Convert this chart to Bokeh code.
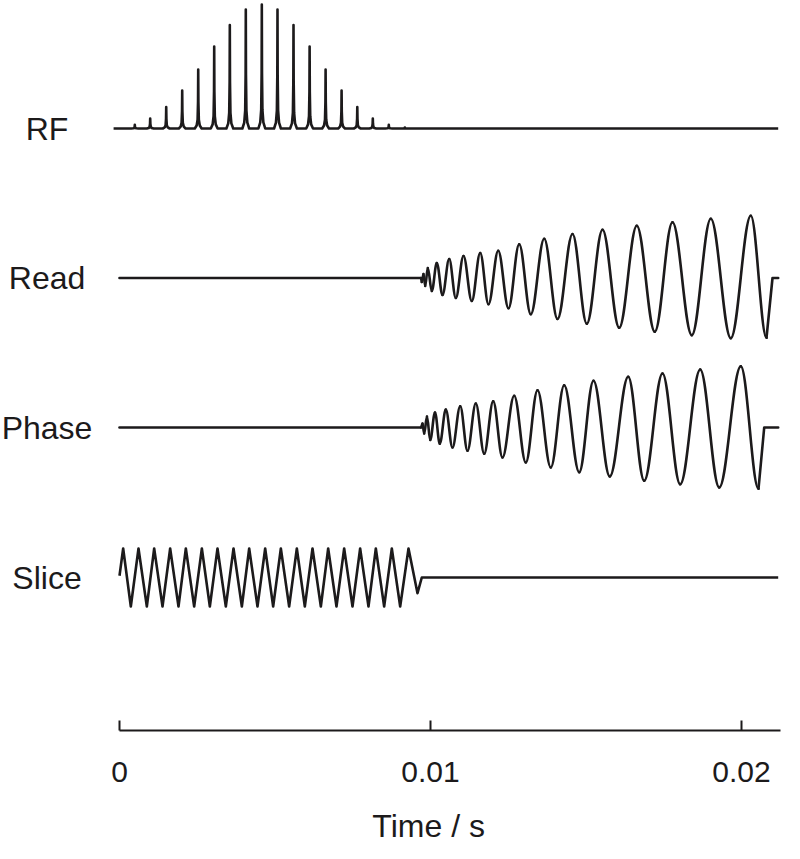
from bokeh.plotting import figure
from bokeh.layouts import column
from bokeh.models import Range1d, FixedTicker
from bokeh.core.properties import value
from bokeh.embed import file_html
from bokeh.resources import INLINE

# ---------------- data ----------------
TICKS = [0.0, 0.01, 0.02]
TICK_LABELS = ["0", "0.01", "0.02"]
AXIS_END = 0.02124
T_END = 0.02118          # end of every trace
RF_START = -0.00019      # RF baseline starts slightly before t = 0
X_LABEL = "Time / s"

# RF: sub-pulse centres (s) and relative amplitudes
RF_T = [0.000492, 0.000987, 0.001502, 0.002016, 0.002531, 0.003045,
        0.003547, 0.004061, 0.004576, 0.005080, 0.005595, 0.006113,
        0.006627, 0.007141, 0.007646, 0.008145, 0.008659, 0.009174]
RF_A = [0.029, 0.080, 0.173, 0.307, 0.475, 0.661,
        0.835, 0.960, 1.000, 0.960, 0.835, 0.661,
        0.475, 0.307, 0.173, 0.080, 0.029, 0.008]

# Read gradient: vertices (s, mT/m); extrema of the spiral read-out
READ_T = [0.0, 0.009695, 0.009720, 0.009775, 0.009830, 0.009913, 0.010042,
          0.010203, 0.010386, 0.010601, 0.010814, 0.011061, 0.011328,
          0.011598, 0.011865, 0.012177, 0.012508, 0.012852, 0.013225,
          0.013656, 0.014084, 0.014566, 0.015026, 0.015531, 0.016068,
          0.016633, 0.017212, 0.017781, 0.018402, 0.019013, 0.019656,
          0.020299, 0.020804, 0.020997, T_END]
READ_G = [0.0, 0.0, -1.6, 1.6, -3.2, 4.0, -5.2,
          6.0, -6.8, 7.6, -8.0, 8.8, -9.2,
          10.0, -10.5, 10.9, -12.1, 13.5, -14.5,
          15.7, -16.4, 17.6, -18.3, 19.3, -19.9,
          20.9, -21.5, 22.3, -22.9, 23.7, -24.1,
          24.9, -23.9, 0.0, 0.0]

# Phase gradient
PHASE_T = [0.0, 0.009695, 0.009743, 0.009797, 0.009887, 0.009990, 0.010145,
           0.010299, 0.010492, 0.010707, 0.010955, 0.011190, 0.011457,
           0.011727, 0.012016, 0.012315, 0.012691, 0.013064, 0.013441,
           0.013868, 0.014299, 0.014781, 0.015241, 0.015765, 0.016357,
           0.016871, 0.017460, 0.018029, 0.018672, 0.019283, 0.019978,
           0.020547, 0.020730, T_END]
PHASE_G = [0.0, 0.0, 1.6, -2.4, 4.4, -5.0, 6.0,
           -6.5, 7.2, -8.0, 8.5, -9.3, 9.6,
           -10.5, 10.5, -12.0, 12.7, -14.0, 14.9,
           -16.0, 16.9, -17.9, 18.7, -19.6, 20.3,
           -21.3, 21.6, -22.7, 23.2, -24.0, 24.5,
           -24.5, 0.0, 0.0]

# Slice gradient: triangular oscillation vertices
SLICE_T = [0.0, 0.000118, 0.000364, 0.000611, 0.000879, 0.001115, 0.001383,
           0.001629, 0.001897, 0.002133, 0.002401, 0.002648, 0.002905,
           0.003151, 0.003419, 0.003666, 0.003934, 0.004170, 0.004437,
           0.004684, 0.004941, 0.005188, 0.005455, 0.005702, 0.005959,
           0.006206, 0.006474, 0.006710, 0.006977, 0.007224, 0.007492,
           0.007738, 0.008006, 0.008242, 0.008510, 0.008756, 0.009025,
           0.009293, 0.009582, 0.009720, T_END]
SLICE_G = [0.7, 11.6, -11.6, 11.6, -11.6, 11.6, -11.6,
           11.6, -11.6, 11.6, -11.6, 11.6, -11.6,
           11.6, -11.6, 11.6, -11.6, 11.6, -11.6,
           11.6, -11.6, 11.6, -11.6, 11.6, -11.6,
           11.6, -11.6, 11.6, -11.6, 11.6, -11.6,
           11.6, -11.6, 11.6, -11.6, 11.6, -11.6,
           11.6, -6.3, 0.0, 0.0]

CHANNELS = ["RF", "Read", "Phase", "Slice"]

# ---------------- layout / style ----------------
INK = "#1c1a1b"
FONT = "Liberation Sans"
LW = 2.6
# vertical offsets of the channels (plot units = px above the time axis)
BASE = {"RF": 602, "Read": 452.5, "Phase": 303, "Slice": 153}
RF_SCALE = 124.0     # plot units for RF amplitude 1
G_SCALE = 2.5        # plot units per mT/m
LABEL_X = -0.00233   # x position (in time units) of the channel names

W = 784
FRAME_H = 730
MAIN_H = 805
BOT_H = 38

p = figure(width=W, height=MAIN_H, output_backend="svg", toolbar_location=None,
           x_range=Range1d(-0.0038264, 0.0213826), y_range=Range1d(0, FRAME_H),
           y_axis_type=None, min_border_left=0, min_border_right=0,
           min_border_top=0, min_border_bottom=MAIN_H - FRAME_H)
p.outline_line_color = None
p.xgrid.visible = False
p.ygrid.visible = False

# RF trace: baseline with narrow sub-pulses
rf_x, rf_y = [RF_START], [BASE["RF"]]
shape = [(-0.00011, 0.0), (-0.00005, 0.05), (-0.00002, 0.15), (-0.000006, 0.45),
         (0.0, 1.0), (0.000006, 0.45), (0.00002, 0.15), (0.00005, 0.05), (0.00011, 0.0)]
for t, a in zip(RF_T, RF_A):
    for dx, f in shape:
        rf_x.append(t + dx)
        rf_y.append(BASE["RF"] + f * a * RF_SCALE)
rf_x.append(T_END)
rf_y.append(BASE["RF"])
p.line(rf_x, rf_y, line_color=INK, line_width=LW, line_join="round")


def draw_gradient(ts, gs, base):
    ys = [base + g * G_SCALE for g in gs]
    p.line(ts[:2], ys[:2], line_color=INK, line_width=LW, line_cap="round")
    k = 0.3634   # cubic-bezier handle length for a half cosine
    x0, y0, x1, y1, cx0, cy0, cx1, cy1 = [], [], [], [], [], [], [], []
    for i in range(1, len(ts) - 3):
        d = ts[i + 1] - ts[i]
        x0.append(ts[i]); y0.append(ys[i])
        x1.append(ts[i + 1]); y1.append(ys[i + 1])
        cx0.append(ts[i] + k * d); cy0.append(ys[i])
        cx1.append(ts[i + 1] - k * d); cy1.append(ys[i + 1])
    p.bezier(x0=x0, y0=y0, x1=x1, y1=y1, cx0=cx0, cy0=cy0, cx1=cx1, cy1=cy1,
             line_color=INK, line_width=LW, line_cap="round")
    p.line(ts[-3:], ys[-3:], line_color=INK, line_width=LW,
           line_join="round", line_cap="round")


draw_gradient(READ_T, READ_G, BASE["Read"])
draw_gradient(PHASE_T, PHASE_G, BASE["Phase"])

p.line(SLICE_T, [BASE["Slice"] + g * G_SCALE for g in SLICE_G],
       line_color=INK, line_width=LW, line_join="round")

# channel names
p.text(x=[LABEL_X] * len(CHANNELS), y=[BASE[c] for c in CHANNELS], text=CHANNELS,
       text_align="center", text_baseline="middle",
       text_font=value(FONT), text_font_size="32px", text_color=INK)

# time axis
ax = p.xaxis[0]
ax.ticker = FixedTicker(ticks=TICKS)
ax.major_label_overrides = {t: s for t, s in zip(TICKS, TICK_LABELS)}
ax.bounds = (0, AXIS_END)
ax.axis_line_color = INK
ax.axis_line_width = 2
ax.major_tick_line_color = INK
ax.major_tick_line_width = 2
ax.major_tick_in = 10
ax.major_tick_out = 0
ax.minor_tick_line_color = None
ax.major_label_standoff = 31
ax.major_label_text_font = FONT
ax.major_label_text_font_size = "30px"
ax.major_label_text_color = INK

# axis title strip (same horizontal scale as the plot above)
bot = figure(width=W, height=BOT_H, output_backend="svg", toolbar_location=None,
             x_range=Range1d(-0.0038264, 0.0213826), y_range=Range1d(0, BOT_H),
             x_axis_type=None, y_axis_type=None, min_border=0)
bot.outline_line_color = None
bot.text(x=[0.00994], y=[17.5], text=[X_LABEL], text_align="center",
         text_baseline="middle", text_font=value(FONT),
         text_font_size="32px", text_color=INK)

layout = column(p, bot, spacing=0)
open("out.html", "w").write(file_html(layout, INLINE))
